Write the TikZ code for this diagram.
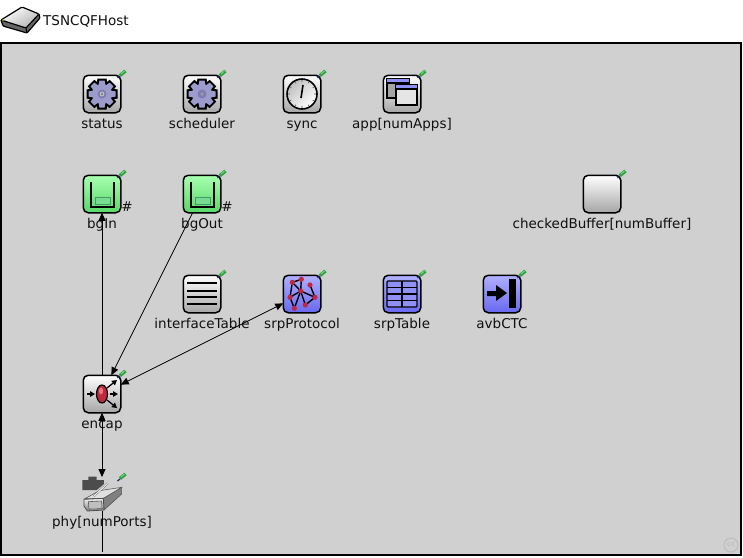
\documentclass[tikz,border=0pt]{standalone}
\usepackage{fontspec}
\setmainfont{DejaVu Sans}
\usetikzlibrary{arrows.meta}
\definecolor{bg}{HTML}{D0D0D0}
\definecolor{ink}{HTML}{101010}
\definecolor{gearc}{HTML}{9C9CCC}
\definecolor{gearh}{HTML}{7C7CB0}
\definecolor{greenA}{HTML}{A8FFB0}
\definecolor{greenB}{HTML}{58D868}
\definecolor{greenC}{HTML}{78DC90}
\definecolor{greenD}{HTML}{489868}
\definecolor{blueA}{HTML}{B0B0FF}
\definecolor{blueB}{HTML}{6868F0}
\definecolor{blueC}{HTML}{9090F4}
\definecolor{pinc}{HTML}{30A040}
\definecolor{pinl}{HTML}{70D880}
\definecolor{pind}{HTML}{203060}
\definecolor{redc}{HTML}{C02840}
\definecolor{redl}{HTML}{E87888}
\tikzset{
  x=1pt,y=-1pt,
  iconbase/.style={draw=black,line width=1.5pt,rounded corners=5pt,minimum size=37.5pt,inner sep=0pt,outer sep=0pt,shading angle=45},
  grayicon/.style={iconbase,top color=white,bottom color=black!35},
  greenicon/.style={iconbase,top color=greenA,bottom color=greenB},
  blueicon/.style={iconbase,top color=blueA,bottom color=blueB},
  bare/.style={inner sep=0pt,outer sep=0pt,minimum width=40pt,minimum height=34pt},
  lbl/.style={font=\fontsize{13.5pt}{15pt}\selectfont,text=ink,anchor=base,inner sep=0pt},
  conn/.style={draw=black,line width=0.8pt},
  tipend/.style={-{Triangle[length=8pt,width=7pt]}},
  tipboth/.style={{Triangle[length=8pt,width=7pt]}-{Triangle[length=8pt,width=7pt]}},
  minitip/.style={line width=1.3pt,-{Triangle[length=5pt,width=5.5pt]}},
  pics/pinmark/.style={code={
    \draw[line width=3.4pt,color=pinc] (-2,1.5)--(3.5,-3);
    \draw[line width=1.2pt,color=pind] (-4.5,4)--(-2,2);
    \draw[line width=1pt,color=pinl] (-1,0)--(2.5,-3);
  }},
  pics/gear/.style={code={
    \foreach \a in {0,45,...,315}{\fill[black,rotate=\a] (-4.6,-15.5)--(4.6,-15.5)--(5.5,-8)--(-5.5,-8)--cycle;}
    \fill[black] (0,0) circle (12.5);
    \foreach \a in {0,45,...,315}{\fill[gearc,rotate=\a] (-2.6,-13.5)--(2.6,-13.5)--(3.5,-8)--(-3.5,-8)--cycle;}
    \fill[gearc] (0,0) circle (10);
    \fill[gearh] (0,0) circle (4.5);
    \fill[black!25] (0,0) circle (#1);
    \fill[black!55] (0,0) circle (#1*0.5);
  }},
  pics/queueglyph/.style={code={
    \fill[greenC,draw=greenD,line width=0.9pt] (-7,3)rectangle(8,10);
    \draw[line width=1.5pt,color=black] (-11,-12)--(-11,13)--(12,13)--(12,-12);
  }}
}
\begin{document}
\begin{tikzpicture}
\useasboundingbox (0,0) rectangle (743,557);
% frame
\fill[white] (0,0) rectangle (743,557);
\draw[line width=2pt,fill=bg] (1,43) rectangle (741,555);
% watermark
\draw[line width=1.2pt,color=black!25] (731,545) circle (7);
\node[font=\bfseries\fontsize{7pt}{7pt}\selectfont,text=black!25,inner sep=0pt] (ccmark) at (731,545) {cc};
% header icon
\fill[black!60] (1,20)--(3,26)--(27,33)--(40,18)--(39,14)--cycle;
\draw[line width=1.2pt,top color=white,bottom color=black!30,shading angle=30,rounded corners=1pt] (1,20)--(22,7)--(39,14)--(26,28)--cycle;
\draw[line width=1.2pt,rounded corners=1pt] (1,20)--(3,26)--(27,33)--(40,18)--(39,14);
\draw[line width=1pt] (26,28)--(27,33);
\fill[olive!70!yellow] (3,20) circle (1);
\node[lbl,anchor=base west] (title) at (43,25) {TSNCQFHost};

% submodule icons
\node[grayicon] (status) at (102,94) {};
\node[grayicon] (scheduler) at (202,94) {};
\node[grayicon] (sync) at (302,94) {};
\node[grayicon] (app) at (402,94) {};
\node[greenicon] (bgIn) at (102,194) {};
\node[greenicon] (bgOut) at (202,194) {};
\node[grayicon] (checkedBuffer) at (602,194) {};
\node[grayicon] (interfaceTable) at (202,294) {};
\node[blueicon] (srpProtocol) at (302,294) {};
\node[blueicon] (srpTable) at (402,294) {};
\node[blueicon] (avbCTC) at (502,294) {};
\node[grayicon] (encap) at (102,394) {};
\node[bare] (phy) at (102,494) {};

% gears
\pic at (102,94) {gear=2.4};
\pic at (202,94) {gear=1.7};
% clock
\begin{scope}[shift={(302,94)}]
  \draw[line width=1.6pt,top color=black!25,bottom color=white,shading angle=45] (0,0) circle (15);
  \foreach \a in {0,30,...,330}{\fill[black!55,rotate=\a] (0,-13) circle (0.8);}
  \draw[line width=1.6pt] (-1,4)--(1,-9);
\end{scope}
% windows
\begin{scope}[shift={(402,94)}]
  \draw[line width=1.2pt,fill=black!35] (-15,-15) rectangle (7,4);
  \fill[blueC] (-15,-15) rectangle (7,-11);
  \draw[line width=1.2pt] (-15,-11)--(7,-11);
  \draw[line width=1.2pt,fill=black!10] (-6,-9) rectangle (15,11);
  \fill[blueC] (-6,-9) rectangle (15,-5);
  \draw[line width=1.2pt] (-6,-5)--(15,-5);
\end{scope}
% queues
\pic at (102,194) {queueglyph};
\pic at (202,194) {queueglyph};
% list
\begin{scope}[shift={(202,294)},line width=2pt]
  \foreach \yy in {-10.7,-3.5,3.3,10.3}{\draw (-15,\yy)--(15,\yy);}
\end{scope}
% network
\begin{scope}[shift={(170,265)},x=0.3333pt,y=-0.3333pt]
  \coordinate (g1) at (367,52);\coordinate (g2) at (394,43);\coordinate (g3) at (420,60);
  \coordinate (g4) at (392,78);\coordinate (g5) at (360,97);\coordinate (g6) at (435,97);
  \coordinate (g7) at (406,120);\coordinate (g8) at (373,130);
  \draw[line width=1.4pt] (g1)--(g2)--(g4)--(g1)--(g5)--(g8)--(g4)--(g6)--(g7)--(g4)--(g5) (g3)--(g6);
  \foreach \g in {g1,g2,g3,g4,g5,g6,g7,g8}{\fill[redc] (\g) circle (2.6pt);}
\end{scope}
% table
\begin{scope}[shift={(402,294)}]
  \draw[line width=1.3pt,fill=blueC,rounded corners=1pt] (-15,-13) rectangle (15,13);
  \foreach \yy in {-6.5,0,6.5}{\draw[line width=1.3pt] (-15,\yy)--(15,\yy);}
  \draw[line width=1.3pt] (0,-13)--(0,13);
\end{scope}
% arrow to bar
\begin{scope}[shift={(502,294)}]
  \fill[black] (7,-15) rectangle (14,14);
  \fill[black] (-15,-3)--(-6,-3)--(-6,-9)--(5,-1)--(-6,7)--(-6,2)--(-15,2)--cycle;
\end{scope}
% encap
\begin{scope}[shift={(102,394)}]
  \draw[minitip] (-15,0)--(-7,0);
  \draw[minitip] (8,0)--(16,0);
  \draw[minitip] (5,-6)--(15,-14);
  \draw[minitip] (5,6)--(15,14);
  \draw[line width=1.2pt,fill=redc] (0,0) ellipse (5.5 and 9);
  \fill[redl] (-1,-3) ellipse (2 and 3.5);
\end{scope}
% nic
\begin{scope}[shift={(40,460)},x=0.3333pt,y=-0.3333pt]
  \fill[black!70] (127,60)--(145,60)--(145,50)--(170,50)--(170,60)--(192,60)--(192,72)--(170,90)--(127,90)--cycle;
  \draw[line width=0.6pt,color=black!65,fill=black!50] (190,115)--(245,82)--(245,102)--(192,150)--cycle;
  \draw[line width=0.6pt,color=black!65,fill=black!12] (135,116)--(178,92)--(245,82)--(190,115)--cycle;
  \draw[line width=0.8pt,color=black!70,top color=black!5,bottom color=black!50] (132,118)--(190,115)--(192,150)--(142,153)--(132,138)--cycle;
  \draw[line width=0.6pt,color=black!65,fill=black!25] (145,125)--(185,123)--(186,146)--(147,147)--cycle;
  \draw[line width=1.8pt,color=black!60] (160,110)--(203,70);
  \draw[line width=1pt,color=black!5] (160,110)--(203,70);
\end{scope}
% pins
\pic at (122,74) {pinmark};
\pic at (222,74) {pinmark};
\pic at (322,74) {pinmark};
\pic at (422,74) {pinmark};
\pic at (122,174) {pinmark};
\pic at (222,174) {pinmark};
\pic at (622,174) {pinmark};
\pic at (222,274) {pinmark};
\pic at (322,274) {pinmark};
\pic at (422,274) {pinmark};
\pic at (522,274) {pinmark};
\pic at (122,374) {pinmark};
\pic at (122,477) {pinmark};

% labels
\node[lbl] (Lstatus) at (102,128) {status};
\node[lbl] (Lscheduler) at (202,128) {scheduler};
\node[lbl] (Lsync) at (302,128) {sync};
\node[lbl] (Lapp) at (402,128) {app[numApps]};
\node[lbl] (LbgIn) at (102,228) {bgIn};
\node[lbl] (LbgOut) at (202,228) {bgOut};
\node[lbl] (Lchecked) at (602,228) {checkedBuffer[numBuffer]};
\node[lbl] (Lif) at (202,328) {interfaceTable};
\node[lbl] (Lsrp) at (302,328) {srpProtocol};
\node[lbl] (Lsrpt) at (402,328) {srpTable};
\node[lbl] (Lavb) at (502,328) {avbCTC};
\node[lbl] (Lencap) at (102,428) {encap};
\node[lbl] (Lphy) at (102,526) {phy[numPorts]};
\node[lbl] (hashA) at (127,211) {\#};
\node[lbl] (hashB) at (227,211) {\#};

% connectors
\coordinate (gate) at (102,552);
\draw[conn,tipend] (encap)--(bgIn);
\draw[conn,tipend] (bgOut)--(encap);
\draw[conn,tipboth] (encap)--(srpProtocol);
\draw[conn,tipboth] (encap)--(phy);
\draw[conn] (phy)--(gate);
\end{tikzpicture}
\end{document}
